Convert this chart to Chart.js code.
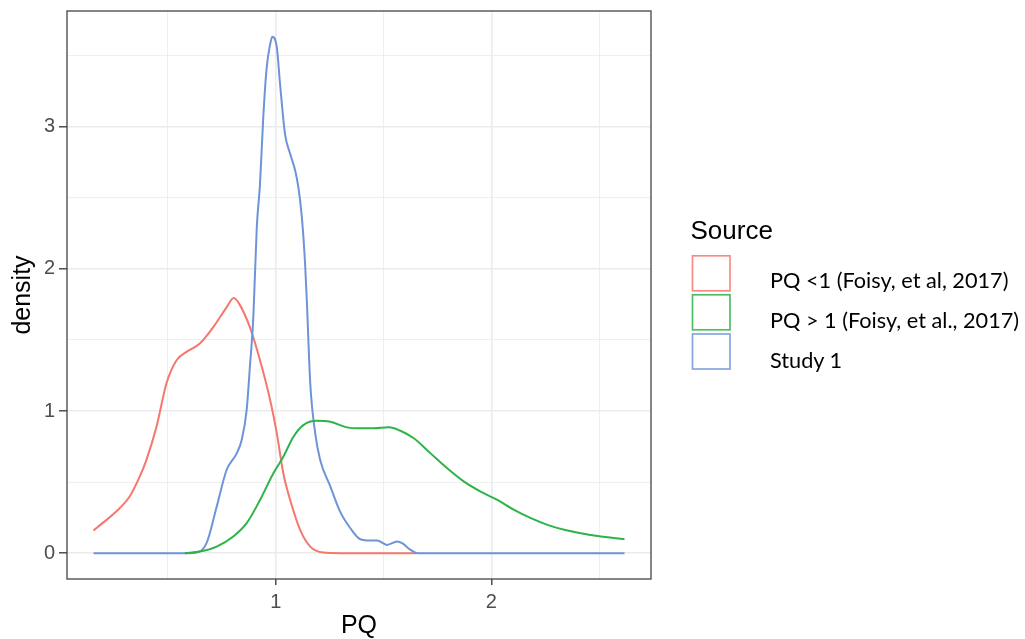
<!DOCTYPE html>
<html>
<head>
<meta charset="utf-8">
<script src="https://cdn.jsdelivr.net/npm/chart.js@4.4.1/dist/chart.umd.min.js"></script>
<style>
  html, body { margin: 0; padding: 0; background: #ffffff; }
  #wrap { position: relative; width: 1025px; height: 639px; }
  #c { position: absolute; left: 0; top: 0; }
  #legend { position: absolute; left: 0; top: 0; }
</style>
</head>
<body>
<div id="wrap">
  <canvas id="c" width="1025" height="639"></canvas>
  <svg id="legend" width="1025" height="639" xmlns="http://www.w3.org/2000/svg"></svg>
</div>
<script>
// ---- data ----
const seriesNames = ["PQ <1 (Foisy, et al, 2017)", "PQ > 1 (Foisy, et al., 2017)", "Study 1"];
const legendTitle = "Source";
const xTitle = "PQ";
const yTitle = "density";

const redX = [0.155, 0.276, 0.322, 0.369, 0.400, 0.447, 0.493, 0.540, 0.586, 0.648, 0.710, 0.772, 0.805, 0.830, 0.880, 0.927, 0.974, 1.005, 1.035, 1.067, 1.113, 1.160, 1.220, 1.300, 1.450, 1.650];
const redY = [0.159, 0.316, 0.397, 0.538, 0.655, 0.889, 1.194, 1.357, 1.416, 1.475, 1.590, 1.730, 1.795, 1.756, 1.590, 1.357, 1.077, 0.843, 0.562, 0.374, 0.164, 0.046, 0.004, 0.000, 0.000, 0.000];

const greenX = [0.578, 0.648, 0.726, 0.803, 0.865, 0.927, 0.989, 1.035, 1.082, 1.128, 1.190, 1.253, 1.330, 1.377, 1.454, 1.524, 1.578, 1.640, 1.718, 1.795, 1.873, 1.950, 2.028, 2.105, 2.183, 2.260, 2.338, 2.415, 2.493, 2.617];
const greenY = [0.000, 0.011, 0.046, 0.117, 0.211, 0.374, 0.562, 0.678, 0.819, 0.901, 0.931, 0.924, 0.885, 0.878, 0.878, 0.885, 0.861, 0.808, 0.702, 0.597, 0.503, 0.433, 0.374, 0.304, 0.246, 0.199, 0.164, 0.140, 0.121, 0.098];

const blueX = [0.155, 0.400, 0.600, 0.632, 0.679, 0.726, 0.772, 0.819, 0.842, 0.865, 0.880, 0.896, 0.912, 0.927, 0.942, 0.958, 0.974, 0.984, 1.005, 1.020, 1.043, 1.067, 1.090, 1.105, 1.121, 1.136, 1.144, 1.160, 1.183, 1.206, 1.253, 1.299, 1.346, 1.392, 1.439, 1.470, 1.516, 1.563, 1.586, 1.625, 1.656, 2.000, 2.617];
const blueY = [0.000, 0.000, 0.000, 0.004, 0.070, 0.327, 0.585, 0.702, 0.796, 1.006, 1.310, 1.660, 2.293, 2.598, 3.066, 3.417, 3.581, 3.633, 3.558, 3.300, 2.949, 2.809, 2.692, 2.574, 2.364, 2.036, 1.779, 1.194, 0.843, 0.655, 0.470, 0.290, 0.175, 0.098, 0.089, 0.089, 0.058, 0.082, 0.070, 0.023, 0.000, 0.000, 0.000];

const xTicks = [1, 2];
const yTicks = [0, 1, 2, 3];

// ---- styling ----
const colors = ["#F5776E", "#2EB34A", "#6E94D8"];
const xRange = [0.032, 2.740];
const yRange = [-0.182, 3.815];
const axisFont = 'Liberation Sans, Arial, sans-serif';

function pts(xs, ys) { return xs.map((x, i) => ({ x: x, y: ys[i] })); }
const isMajor = (v, list) => list.some(t => Math.abs(t - v) < 1e-9);

const panelBorder = {
  id: 'panelBorder',
  afterDraw(chart) {
    const { ctx, chartArea: a } = chart;
    ctx.save();
    ctx.strokeStyle = '#444444';
    ctx.lineWidth = 1.3;
    ctx.strokeRect(a.left, a.top, a.right - a.left, a.bottom - a.top);
    ctx.restore();
  }
};

function gridOpts(majors, tickLen) {
  return {
    color: '#ebebeb',
    lineWidth: c => (c.tick && isMajor(c.tick.value, majors)) ? 1.6 : 0.8,
    tickColor: c => (c.tick && isMajor(c.tick.value, majors)) ? '#333333' : 'rgba(0,0,0,0)',
    tickLength: tickLen,
    tickWidth: 1.3,
    drawTicks: true
  };
}

const datasets = [
  { label: seriesNames[0], data: pts(redX, redY), borderColor: colors[0], order: 3 },
  { label: seriesNames[1], data: pts(greenX, greenY), borderColor: colors[1], order: 1 },
  { label: seriesNames[2], data: pts(blueX, blueY), borderColor: colors[2], order: 2 }
].map(d => Object.assign(d, {
  showLine: true, pointRadius: 0, borderWidth: 2, fill: false,
  cubicInterpolationMode: 'monotone', backgroundColor: d.borderColor
}));

new Chart(document.getElementById('c'), {
  type: 'scatter',
  data: { datasets },
  plugins: [panelBorder],
  options: {
    responsive: false,
    animation: false,
    events: [],
    layout: { padding: { left: 0, top: 11, right: 374, bottom: 0 } },
    plugins: { legend: { display: false }, tooltip: { enabled: false } },
    scales: {
      x: {
        type: 'linear', min: xRange[0], max: xRange[1],
        afterFit: s => { s.height = 60; s.paddingLeft = 0; s.paddingRight = 0; },
        border: { display: false },
        grid: gridOpts(xTicks, 6),
        ticks: {
          stepSize: 0.5, includeBounds: false, padding: 5, maxRotation: 0,
          color: '#4d4d4d', font: { family: axisFont, size: 20 },
          callback: v => isMajor(v, xTicks) ? String(Math.round(v)) : ''
        },
        title: {
          display: true, text: xTitle, color: '#000000',
          font: { family: axisFont, size: 25, lineHeight: 1 },
          padding: { top: 0, bottom: 0 }
        }
      },
      y: {
        type: 'linear', min: yRange[0], max: yRange[1],
        afterFit: s => { s.width = 67; s.paddingTop = 0; s.paddingBottom = 0; },
        border: { display: false },
        grid: gridOpts(yTicks, 8),
        ticks: {
          stepSize: 0.5, includeBounds: false, padding: 4,
          color: '#4d4d4d', font: { family: axisFont, size: 20 },
          callback: v => isMajor(v, yTicks) ? String(Math.round(v)) : ''
        },
        title: {
          display: true, text: yTitle, color: '#000000',
          font: { family: axisFont, size: 25, lineHeight: 1 },
          padding: { top: 11, bottom: 0 }
        }
      }
    }
  }
});

// ---- legend (SVG, real text) ----
(function buildLegend() {
  const svg = document.getElementById('legend');
  const NS = 'http://www.w3.org/2000/svg';
  const t = document.createElementNS(NS, 'text');
  t.setAttribute('x', 690.5); t.setAttribute('y', 239.3);
  t.setAttribute('font-family', axisFont);
  t.setAttribute('font-size', '26'); t.setAttribute('fill', '#000');
  t.textContent = legendTitle;
  svg.appendChild(t);
  const boxTops = [255.8, 294.8, 334.0];
  const baselines = [288.3, 328.3, 368.3];
  seriesNames.forEach((name, i) => {
    const r = document.createElementNS(NS, 'rect');
    r.setAttribute('x', 692.5); r.setAttribute('y', boxTops[i]);
    r.setAttribute('width', 37.5); r.setAttribute('height', 35);
    r.setAttribute('fill', '#ffffff'); r.setAttribute('stroke', colors[i]);
    r.setAttribute('stroke-width', 1.7); r.setAttribute('stroke-opacity', 0.85);
    svg.appendChild(r);
    const tx = document.createElementNS(NS, 'text');
    tx.setAttribute('x', 770); tx.setAttribute('y', baselines[i]);
    tx.setAttribute('font-family', 'Lato, "Open Sans", sans-serif');
    tx.setAttribute('font-size', '21.7'); tx.setAttribute('fill', '#000');
    tx.textContent = name;
    svg.appendChild(tx);
  });
})();
</script>
</body>
</html>
